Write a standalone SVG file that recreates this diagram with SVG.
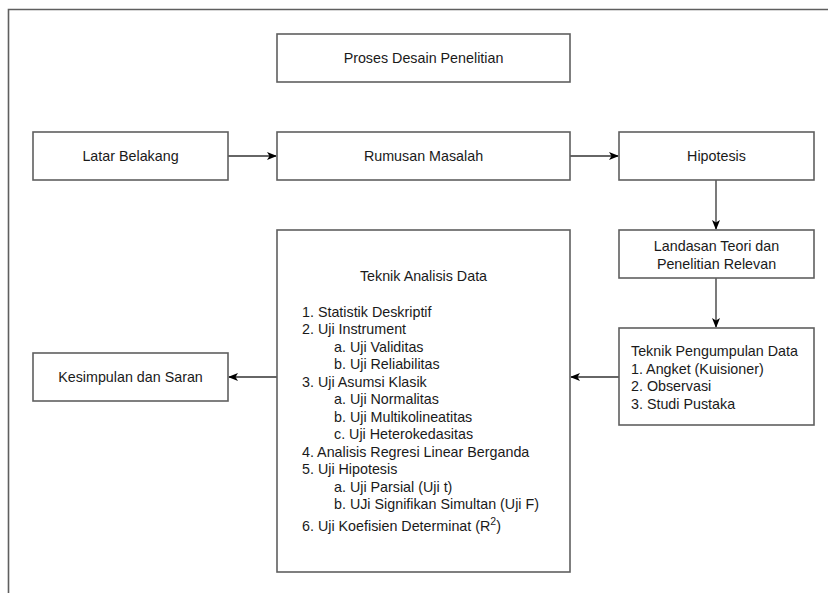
<svg xmlns="http://www.w3.org/2000/svg" width="828" height="593" viewBox="0 0 828 593">
<style>
.box{fill:#fff;stroke:#5f5f5f;stroke-width:1.6}
text{font-family:"Liberation Sans",Arial,sans-serif;font-size:14.3px;fill:#1a1a1a}
.c{text-anchor:middle}
.edge{fill:none;stroke:#333;stroke-width:1.3}
</style>
<defs>
<marker id="ah" viewBox="0 0 10 10" refX="9" refY="5" markerWidth="10" markerHeight="10" markerUnits="userSpaceOnUse" orient="auto">
<path d="M0,1 L10,5 L0,9 L2.5,5 Z" fill="#000"/>
</marker>
</defs>
<rect width="828" height="593" fill="#fff"/>
<path d="M8.5,593 V9.5 H828" fill="none" stroke="#5f5f5f" stroke-width="1.6"/>
<g id="connectors">
<path class="edge" d="M228,156 H276" marker-end="url(#ah)"/>
<path class="edge" d="M570,156 H618" marker-end="url(#ah)"/>
<path class="edge" d="M716,180 V229" marker-end="url(#ah)"/>
<path class="edge" d="M716,278 V327" marker-end="url(#ah)"/>
<path class="edge" d="M619,377 H571" marker-end="url(#ah)"/>
<path class="edge" d="M277,377 H229" marker-end="url(#ah)"/>
</g>
<g id="proses"><rect class="box" x="277" y="34" width="293" height="48"/><text class="c" x="423.5" y="63">Proses Desain Penelitian</text></g>
<g id="latar"><rect class="box" x="33" y="132" width="195" height="48"/><text class="c" x="130.5" y="161">Latar Belakang</text></g>
<g id="rumusan"><rect class="box" x="277" y="132" width="293" height="48"/><text class="c" x="423.5" y="161">Rumusan Masalah</text></g>
<g id="hipotesis"><rect class="box" x="619" y="132" width="195" height="48"/><text class="c" x="716.5" y="161">Hipotesis</text></g>
<g id="landasan"><rect class="box" x="619" y="230" width="195" height="48"/><text class="c" x="716.5" y="251">Landasan Teori dan</text><text class="c" x="716.5" y="268.5">Penelitian Relevan</text></g>
<g id="pengumpulan"><rect class="box" x="619" y="328" width="195" height="97"/>
<text x="631" y="356">Teknik Pengumpulan Data</text>
<text x="631" y="373.5">1. Angket (Kuisioner)</text>
<text x="631" y="391">2. Observasi</text>
<text x="631" y="408.5">3. Studi Pustaka</text></g>
<g id="analisis"><rect class="box" x="277" y="230" width="293" height="342"/>
<text class="c" x="423.5" y="281">Teknik Analisis Data</text>
<text x="302" y="316.5">1. Statistik Deskriptif</text>
<text x="302" y="334">2. Uji Instrument</text>
<text x="334" y="351.5">a. Uji Validitas</text>
<text x="334" y="369">b. Uji Reliabilitas</text>
<text x="302" y="386.5">3. Uji Asumsi Klasik</text>
<text x="334" y="404">a. Uji Normalitas</text>
<text x="334" y="421.5">b. Uji Multikolineatitas</text>
<text x="334" y="439">c. Uji Heterokedasitas</text>
<text x="302" y="456.5">4. Analisis Regresi Linear Berganda</text>
<text x="302" y="474">5. Uji Hipotesis</text>
<text x="334" y="491.5">a. Uji Parsial (Uji t)</text>
<text x="334" y="509">b. UJi Signifikan Simultan (Uji F)</text>
<text x="302" y="531">6. Uji Koefisien Determinat (R<tspan font-size="10.5px" dy="-6">2</tspan><tspan dy="6">)</tspan></text></g>
<g id="kesimpulan"><rect class="box" x="33" y="353" width="195" height="48"/><text class="c" x="130.5" y="382">Kesimpulan dan Saran</text></g>
</svg>
